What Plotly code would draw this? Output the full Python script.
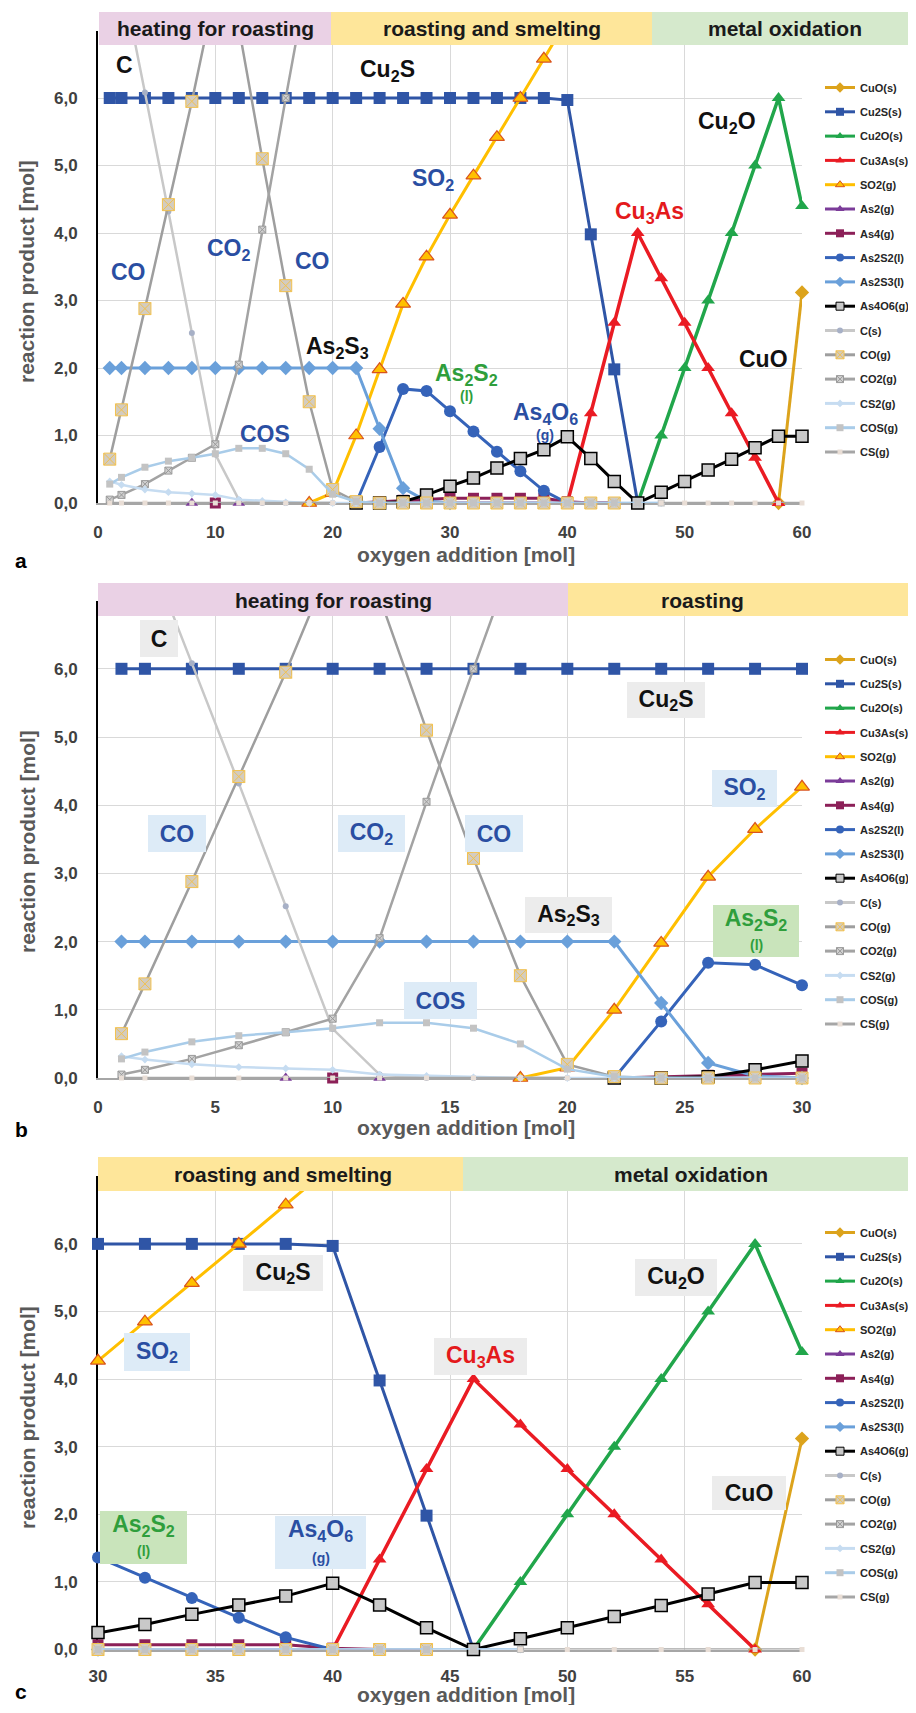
import plotly.graph_objects as go

# page coordinates (the page body has an 8 px margin, compensated below)
OFF = 8
FW, FH = 900, 1697

# ---------------- data ----------------
x_vals = [1, 2, 4, 6, 8, 10, 12, 14, 16, 18, 20, 22, 24, 26, 28, 30,
          32, 34, 36, 38, 40, 42, 44, 46, 48, 50, 52, 54, 56, 58, 60]
N = None
cuo = [N, N, N, N, N, N, N, N, N, N, N, N, N, N, N, N, N, N, N, N,
       N, N, N, N, N, N, N, N, N, 0.0, 3.12]
cu2s = [6.0, 6.0, 6.0, 6.0, 6.0, 6.0, 6.0, 6.0, 6.0, 6.0, 6.0, 6.0, 6.0, 6.0, 6.0, 6.0,
        6.0, 6.0, 6.0, 6.0, 5.97, 3.98, 1.98, 0.0, N, N, N, N, N, N, N]
cu2o = [N, N, N, N, N, N, N, N, N, N, N, N, N, N, N, N, N, N, N, N,
        N, N, N, 0.0, 1.0, 2.0, 3.0, 4.0, 5.0, 6.0, 4.4]
cu3as = [N, N, N, N, N, N, N, N, N, N, N, N, N, N, N, N, N, N, N, N,
         0.0, 1.33, 2.67, 4.0, 3.33, 2.67, 2.0, 1.33, 0.67, 0.0, N]
so2 = [N, N, N, N, N, N, N, N, N, 0.0, 0.15, 1.0, 1.98, 2.95, 3.65, 4.27,
       4.85, 5.42, 6.0, 6.58, 7.16, N, N, N, N, N, N, N, N, N, N]
as2 = [N, N, N, N, 0.0, N, 0.0, N, N, N, N, 0.0, 0.0, 0.0, 0.0, 0.0,
       0.0, 0.0, 0.0, 0.0, 0.0, 0.0, 0.0, N, N, N, N, N, N, N, N]
as4 = [N, N, N, N, N, 0.0, N, N, N, N, N, 0.0, 0.02, 0.04, 0.06, 0.07,
       0.07, 0.07, 0.07, 0.07, 0.02, 0.0, 0.0, N, N, N, N, N, N, N, N]
as2s2 = [N, N, N, N, N, N, N, N, N, N, N, 0.0, 0.83, 1.69, 1.66, 1.36,
         1.06, 0.76, 0.47, 0.18, 0.0, N, N, N, N, N, N, N, N, N, N]
as2s3 = [2.0, 2.0, 2.0, 2.0, 2.0, 2.0, 2.0, 2.0, 2.0, 2.0, 2.0, 2.0, 1.1, 0.22, 0.03, 0.0,
         N, N, N, N, N, N, N, N, N, N, N, N, N, N, N]
as4o6 = [N, N, N, N, N, N, N, N, N, N, N, 0.0, 0.0, 0.02, 0.12, 0.25,
         0.37, 0.52, 0.66, 0.79, 0.98, 0.66, 0.32, 0.0, 0.16, 0.32, 0.49, 0.65, 0.82, 0.99, 0.99]
c_s = [8.7, 7.84, 6.08, 4.32, 2.52, 0.72, 0.05, 0.0, 0.0, 0.0, 0.0, N, N, N, N, N,
       N, N, N, N, N, N, N, N, N, N, N, N, N, N, N]
co = [0.65, 1.38, 2.88, 4.42, 5.95, 7.6, 7.05, 5.1, 3.22, 1.5, 0.2, 0.02, 0.0, 0.0, 0.0, 0.0,
      0.0, 0.0, 0.0, 0.0, 0.0, 0.0, 0.0, N, N, N, N, N, N, N, N]
co2 = [0.05, 0.12, 0.28, 0.48, 0.67, 0.87, 2.05, 4.05, 6.0, 7.9, 9.6, 9.9, N, N, N, N,
       N, N, N, N, N, N, N, N, N, N, N, N, N, N, N]
cs2 = [0.32, 0.27, 0.2, 0.16, 0.14, 0.12, 0.05, 0.03, 0.01, 0.0, 0.0, 0.0, 0.0, 0.0, 0.0, 0.0,
       0.0, 0.0, 0.0, 0.0, 0.0, 0.0, 0.0, 0.0, 0.0, N, N, N, N, N, N]
cos = [0.28, 0.38, 0.53, 0.62, 0.67, 0.73, 0.81, 0.81, 0.73, 0.5, 0.13, 0.02, 0.0, 0.0, 0.0, 0.0,
       0.0, 0.0, 0.0, 0.0, 0.0, 0.0, 0.0, 0.0, 0.0, N, N, N, N, N, N]
cs = [0.0, 0.0, 0.0, 0.0, 0.0, 0.0, 0.0, 0.0, 0.0, 0.0, 0.0, N, N, N, N, N,
      N, N, N, N, N, N, N, N, 0.0, 0.0, 0.0, 0.0, 0.0, 0.0, 0.0]

series_names = ["CuO(s)", "Cu2S(s)", "Cu2O(s)", "Cu3As(s)", "SO2(g)", "As2(g)", "As4(g)",
                "As2S2(l)", "As2S3(l)", "As4O6(g)", "C(s)", "CO(g)", "CO2(g)", "CS2(g)",
                "COS(g)", "CS(g)"]
series_values = [cuo, cu2s, cu2o, cu3as, so2, as2, as4, as2s2, as2s3, as4o6,
                 c_s, co, co2, cs2, cos, cs]

y_ticks = [0, 1, 2, 3, 4, 5, 6]
y_tick_text = ["0,0", "1,0", "2,0", "3,0", "4,0", "5,0", "6,0"]
x_ticks_a = [0, 10, 20, 30, 40, 50, 60]
x_ticks_b = [0, 5, 10, 15, 20, 25, 30]
x_ticks_c = [30, 35, 40, 45, 50, 55, 60]

# ---------------- styles ----------------
styles = [
    dict(color="#dca31c", width=3, symbol="diamond", size=11, mcolor="#dca31c", mline="#dca31c", mlw=0),
    dict(color="#2f55a6", width=3, symbol="square", size=12, mcolor="#2f55a6", mline="#2f55a6", mlw=0),
    dict(color="#21a64b", width=3.5, symbol="triangle-up", size=12, mcolor="#21a64b", mline="#21a64b", mlw=0),
    dict(color="#ea1b23", width=3.5, symbol="triangle-up", size=12, mcolor="#ea1b23", mline="#ea1b23", mlw=0),
    dict(color="#ffbf00", width=3, symbol="triangle-up", size=13, mcolor="#ffc000", mline="#d9531e", mlw=1.2),
    dict(color="#7b3c99", width=3, symbol="triangle-up", size=11, mcolor="#7b3c99", mline="#7b3c99", mlw=0),
    dict(color="#8c2058", width=3, symbol="square", size=11, mcolor="#8c2058", mline="#8c2058", mlw=0),
    dict(color="#3563b9", width=3, symbol="circle", size=12, mcolor="#3563b9", mline="#3563b9", mlw=0),
    dict(color="#6aa0da", width=3, symbol="diamond", size=11, mcolor="#6aa0da", mline="#6aa0da", mlw=0),
    dict(color="#000000", width=3, symbol="square", size=12, mcolor="#c9c9c9", mline="#000000", mlw=1.5),
    dict(color="#c8c8c8", width=2.5, symbol="circle", size=6, mcolor="#a7b0c6", mline="#a7b0c6", mlw=0),
    dict(color="#9e9e9e", width=2.5, symbol="square-x", size=12, mcolor="#d3ccc0", mline="#f2c14e", mlw=1),
    dict(color="#a3a3a3", width=2.5, symbol="square-x", size=7, mcolor="#d0d0d0", mline="#9a9a9a", mlw=1),
    dict(color="#c6dcf1", width=2.5, symbol="diamond", size=6, mcolor="#c6dcf1", mline="#c6dcf1", mlw=0),
    dict(color="#a9cce9", width=2.5, symbol="square", size=7, mcolor="#c3c3c3", mline="#c3c3c3", mlw=0),
    dict(color="#a6a6a6", width=2.5, symbol="square", size=5, mcolor="#e9ded6", mline="#e9ded6", mlw=0),
]


def px(v):
    return min(max((v - OFF) / FW, 0.0), 1.0)


def py(v):
    return min(max(1 - (v - OFF) / FH, 0.0), 1.0)


panels = [
    dict(key="a", xa="x", ya="y", lg="legend", xr=[0, 60], xt=x_ticks_a, y0=503.0, y7=30.5, lt=73, tl=13),
    dict(key="b", xa="x2", ya="y2", lg="legend2", xr=[0, 30], xt=x_ticks_b, y0=1078.0, y7=600.6, lt=645, tl=13),
    dict(key="c", xa="x3", ya="y3", lg="legend3", xr=[30, 60], xt=x_ticks_c, y0=1649.5, y7=1176.3, lt=1218, tl=10),
]

fig = go.Figure()

for p in panels:
    for i, (name, vals) in enumerate(zip(series_names, series_values)):
        s = styles[i]
        fig.add_trace(go.Scatter(
            x=x_vals, y=vals, mode="lines+markers", name=name,
            xaxis=p["xa"], yaxis=p["ya"], showlegend=False, cliponaxis=False,
            line=dict(color=s["color"], width=s["width"]),
            marker=dict(symbol=s["symbol"], size=s["size"], color=s["mcolor"],
                        line=dict(color=s["mline"], width=s["mlw"])),
            hoverinfo="skip"))
    for i, name in enumerate(series_names):
        s = styles[i]
        fig.add_trace(go.Scatter(
            x=[None], y=[None], mode="lines+markers", name=name,
            xaxis=p["xa"], yaxis=p["ya"], showlegend=True, legend=p["lg"],
            legendgroup=p["key"] + str(i),
            line=dict(color=s["color"], width=3),
            marker=dict(symbol=s["symbol"], size=min(s["size"], 8), color=s["mcolor"],
                        line=dict(color=s["mline"], width=min(s["mlw"], 1)))))

tickfont = dict(family="Liberation Sans", size=17, color="#404040", weight="bold")
layout = dict(width=FW, height=FH, autosize=False,
              margin=dict(l=0, r=0, t=0, b=0, pad=0, autoexpand=False),
              paper_bgcolor="white", plot_bgcolor="white", showlegend=True)

for n, p in enumerate(panels):
    sfx = "" if n == 0 else str(n + 1)
    layout["xaxis" + sfx] = dict(
        domain=[px(98), px(802)], range=p["xr"], anchor="y" + sfx, automargin=False,
        tickvals=p["xt"], ticktext=[str(t) for t in p["xt"]], tickfont=tickfont,
        showgrid=True, gridcolor="#d9d9d9", gridwidth=1, zeroline=False,
        showline=True, linecolor="#a6a6a6", linewidth=2,
        ticks="outside", ticklen=p["tl"], tickcolor="rgba(0,0,0,0)", layer="below traces")
    layout["yaxis" + sfx] = dict(
        domain=[py(p["y0"]), py(p["y7"])], range=[0, 7], anchor="x" + sfx, automargin=False,
        tickvals=y_ticks, ticktext=y_tick_text, tickfont=tickfont,
        showgrid=True, gridcolor="#d9d9d9", gridwidth=1, zeroline=False,
        showline=True, linecolor="#000000", linewidth=2,
        ticks="outside", ticklen=15, tickcolor="rgba(0,0,0,0)", layer="below traces")
    layout["legend" + sfx] = dict(
        x=px(820), xanchor="left", y=py(p["lt"]), yanchor="top",
        bgcolor="rgba(0,0,0,0)", borderwidth=0, tracegroupgap=5.3, itemwidth=30,
        traceorder="grouped",
        font=dict(family="Liberation Sans", size=11, color="#262626", weight="bold"))

fig.update_layout(**layout)

# ---------------- phase bands ----------------
PINK, YEL, GRN = "#ead1e5", "#fee69a", "#d5e9cc"
bands = [
    (99, 331, 12, 45, PINK, "heating for roasting"),
    (331, 652, 12, 45, YEL, "roasting and smelting"),
    (652, 916, 12, 45, GRN, "metal oxidation"),
    (98, 568, 583, 616, PINK, "heating for roasting"),
    (568, 916, 583, 616, YEL, "roasting"),
    (98, 463, 1157, 1191, YEL, "roasting and smelting"),
    (463, 916, 1157, 1191, GRN, "metal oxidation"),
]
band_text_pos = [(215, 29), (492, 29), (785, 29), (333, 600), (702, 600), (283, 1174), (691, 1174)]
shapes = []
annotations = []
for (x0, x1, y0, y1, col, txt), (tx, ty) in zip(bands, band_text_pos):
    shapes.append(dict(type="rect", xref="paper", yref="paper", x0=px(x0), x1=px(x1),
                       y0=py(y1), y1=py(y0), fillcolor=col, line=dict(width=0), layer="above"))
    annotations.append(dict(xref="paper", yref="paper", x=px(tx), y=py(ty), text="<b>" + txt + "</b>",
                            showarrow=False, xanchor="center", yanchor="middle",
                            font=dict(family="Liberation Sans", size=21, color="#1a1a1a")))

# axis titles and panel letters
for ycen, xt_y, letter, ly in [(272, 555, "a", 560), (842, 1127, "b", 1129), (1418, 1694, "c", 1691)]:
    annotations.append(dict(xref="paper", yref="paper", x=px(27), y=py(ycen),
                            text="<b>reaction product [mol]</b>", textangle=-90, showarrow=False,
                            xanchor="center", yanchor="middle",
                            font=dict(family="Liberation Sans", size=21, color="#595959")))
    annotations.append(dict(xref="paper", yref="paper", x=px(466), y=py(xt_y),
                            text="<b>oxygen addition [mol]</b>", showarrow=False,
                            xanchor="center", yanchor="middle",
                            font=dict(family="Liberation Sans", size=21, color="#595959")))
    annotations.append(dict(xref="paper", yref="paper", x=px(21), y=py(ly),
                            text="<b>" + letter + "</b>", showarrow=False,
                            xanchor="center", yanchor="middle",
                            font=dict(family="Liberation Sans", size=21, color="#000000")))

BLUE, BLACK, GREEN, RED = "#2a4ea2", "#111111", "#2f9e3c", "#e41a1c"
LBOX, GBOX, GRBOX = "#ddebf7", "#ececec", "#c9e4bb"


def lab(xref, yref, text, x, y, color, size=23, box=None, w=None, h=None, valign="middle"):
    a = dict(xref=xref, yref=yref, x=x, y=y, text="<b>" + text + "</b>", showarrow=False,
             xanchor="center", yanchor="middle",
             font=dict(family="Liberation Sans", size=size, color=color))
    if box:
        a.update(bgcolor=box, borderpad=0, borderwidth=0, width=w, height=h, valign=valign)
    annotations.append(a)


# panel a labels
lab("x", "y", "C", 2.3, 6.49, BLACK)
lab("x", "y", "Cu<sub>2</sub>S", 24.7, 6.4, BLACK)
lab("x", "y", "SO<sub>2</sub>", 28.55, 4.79, BLUE)
lab("x", "y", "CO", 2.64, 3.42, BLUE)
lab("x", "y", "CO<sub>2</sub>", 11.17, 3.75, BLUE)
lab("x", "y", "CO", 18.3, 3.59, BLUE)
lab("x", "y", "As<sub>2</sub>S<sub>3</sub>", 20.4, 2.3, BLACK)
lab("x", "y", "COS", 14.2, 1.02, BLUE)
lab("x", "y", "As<sub>2</sub>S<sub>2</sub>", 31.4, 1.9, GREEN)
lab("x", "y", "(l)", 31.4, 1.58, GREEN, size=14)
lab("x", "y", "As<sub>4</sub>O<sub>6</sub>", 38.1, 1.32, BLUE)
lab("x", "y", "(g)", 38.1, 1.0, BLUE, size=14)
lab("x", "y", "Cu<sub>3</sub>As", 47.0, 4.3, RED)
lab("x", "y", "Cu<sub>2</sub>O", 53.6, 5.63, BLACK)
lab("x", "y", "CuO", 56.7, 2.13, BLACK)

# panel b labels
lab("x2", "y2", "C", 2.6, 6.45, BLACK, box=GBOX, w=38, h=37)
lab("x2", "y2", "CO", 3.37, 3.59, BLUE, box=LBOX, w=58, h=37)
lab("x2", "y2", "CO<sub>2</sub>", 11.67, 3.59, BLUE, box=LBOX, w=67, h=37)
lab("x2", "y2", "CO", 16.87, 3.59, BLUE, box=LBOX, w=58, h=37)
lab("x2", "y2", "Cu<sub>2</sub>S", 24.2, 5.54, BLACK, box=GBOX, w=78, h=36)
lab("x2", "y2", "SO<sub>2</sub>", 27.57, 4.25, BLUE, box=LBOX, w=65, h=37)
lab("x2", "y2", "As<sub>2</sub>S<sub>3</sub>", 20.03, 2.39, BLACK, box=GBOX, w=87, h=36)
lab("x2", "y2", "As<sub>2</sub>S<sub>2</sub>", 28.04, 2.16, GREEN, box=GRBOX, w=86, h=52, valign="top")
lab("x2", "y2", "(l)", 28.04, 1.95, GREEN, size=14)
lab("x2", "y2", "COS", 14.61, 1.13, BLUE, box=LBOX, w=73, h=37)

# panel c labels
lab("x3", "y3", "SO<sub>2</sub>", 32.51, 4.40, BLUE, box=LBOX, w=66, h=38)
lab("x3", "y3", "Cu<sub>2</sub>S", 37.88, 5.57, BLACK, box=GBOX, w=80, h=36)
lab("x3", "y3", "Cu<sub>3</sub>As", 46.28, 4.34, RED, box=GBOX, w=93, h=37)
lab("x3", "y3", "Cu<sub>2</sub>O", 54.63, 5.51, BLACK, box=GBOX, w=82, h=37)
lab("x3", "y3", "CuO", 57.74, 2.32, BLACK, box=GBOX, w=74, h=34)
lab("x3", "y3", "As<sub>2</sub>S<sub>2</sub>", 31.96, 1.66, GREEN, box=GRBOX, w=87, h=53, valign="top")
lab("x3", "y3", "(l)", 31.96, 1.46, GREEN, size=14)
lab("x3", "y3", "As<sub>4</sub>O<sub>6</sub>", 39.5, 1.58, BLUE, box=LBOX, w=91, h=53, valign="top")
lab("x3", "y3", "(g)", 39.5, 1.35, BLUE, size=14)

fig.update_layout(shapes=shapes, annotations=annotations)
fig.write_html("out.html")
